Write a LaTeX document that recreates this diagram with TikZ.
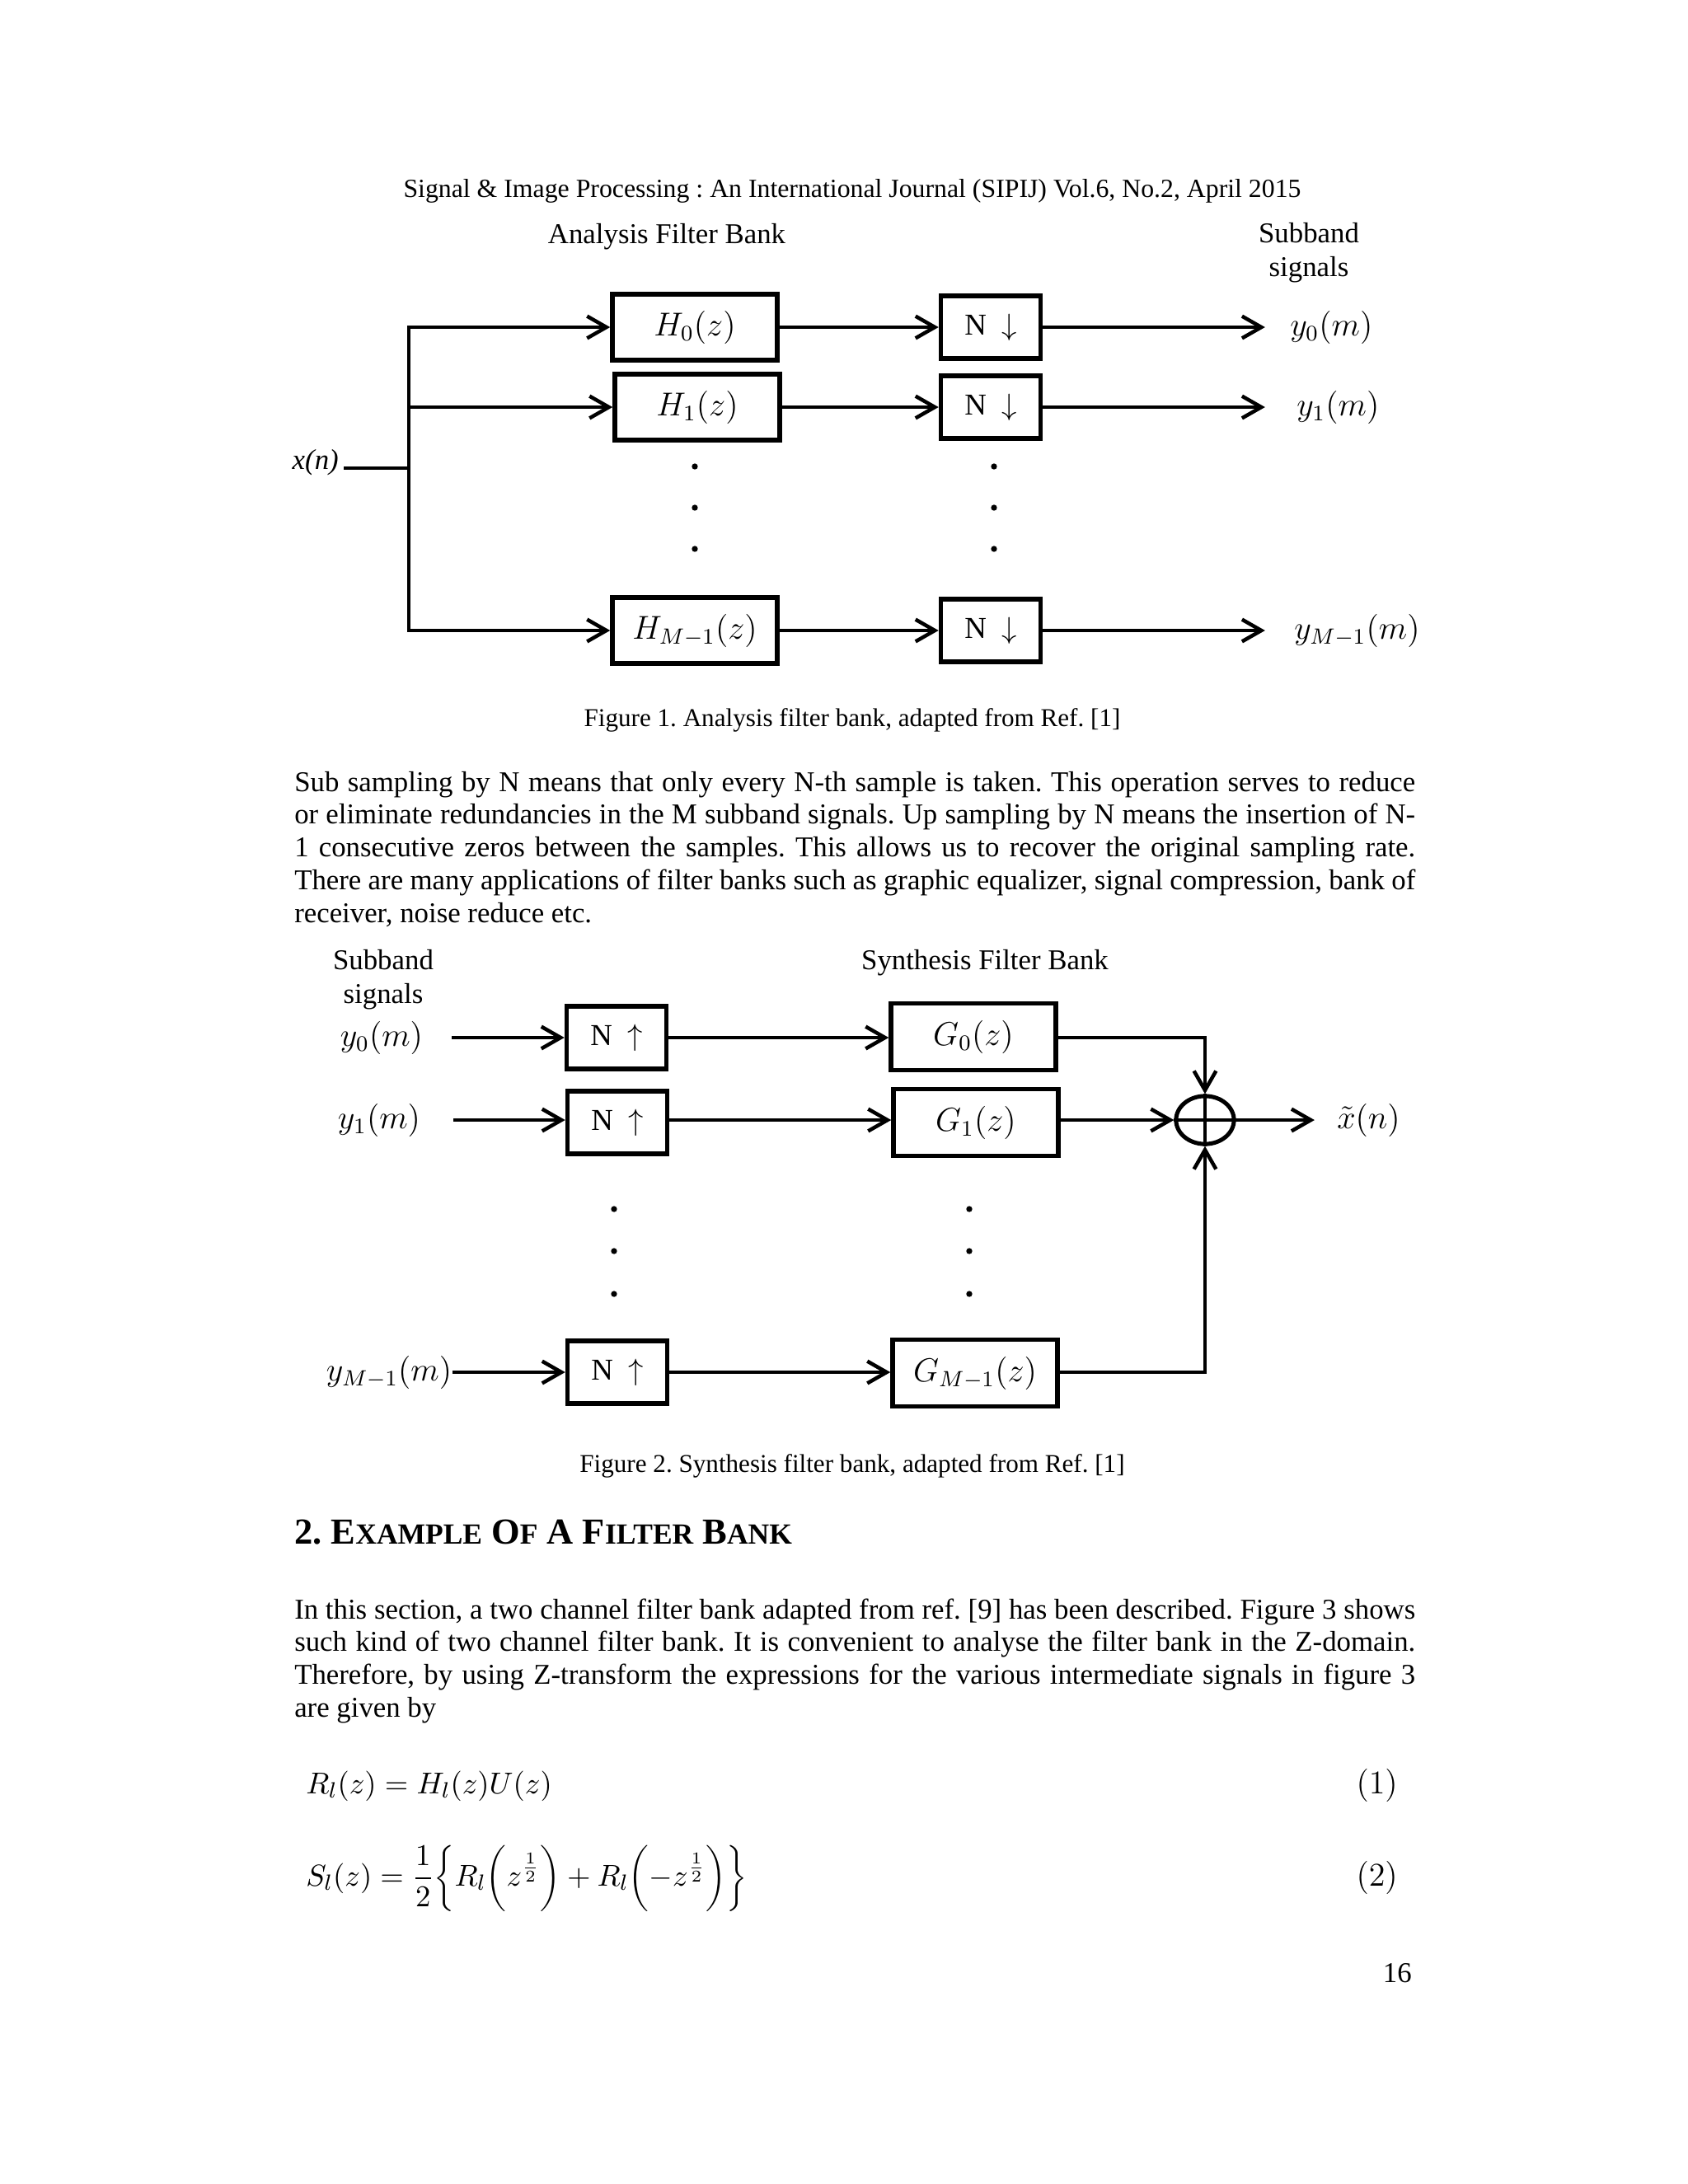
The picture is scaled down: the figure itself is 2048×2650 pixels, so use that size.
\documentclass[tikz,border=0pt]{standalone}
\usepackage{fontspec}
\setmainfont{Liberation Serif}
\usetikzlibrary{arrows.meta,shapes.geometric}
\newcommand\mysmc[1]{{\fontsize{10.6}{12}\selectfont #1}}
\begin{document}
\frenchspacing
\begin{tikzpicture}[x=0.29883pt,y=-0.29883pt,
  line width=1.35pt,
  arr/.style={-{Straight Barb[length=7pt,width=8pt]}},
  hbox/.style={draw,line width=1.6pt,minimum width=59.8pt,minimum height=24pt,inner sep=0pt,font=\fontsize{11.5}{13}\selectfont},
  nbox/.style={draw,line width=1.6pt,minimum width=36.2pt,minimum height=22.7pt,inner sep=0pt,font=\fontsize{11}{13}\selectfont},
  lbl/.style={inner sep=0pt,font=\fontsize{10.4}{12.3}\selectfont},
  mlab/.style={inner sep=0pt,font=\fontsize{11.5}{13}\selectfont},
  txt/.style={inner sep=0pt,anchor=base west,text width=406.4pt,align=justify,font=\fontsize{10.4}{11.88}\selectfont},
  figcap/.style={inner sep=0pt,font=\fontsize{9.3}{11}\selectfont}
]
\fill[white] (0,0) rectangle (2048,2650);
\useasboundingbox (0,0) rectangle (2048,2650);

% header
\node[inner sep=0pt,anchor=base,font=\fontsize{9.5}{11}\selectfont] (hdr) at (1034,239) {Signal \& Image Processing : An International Journal (SIPIJ) Vol.6, No.2, April 2015};

% ---------- Figure 1 ----------
\node[lbl] (afb) at (809,287) {Analysis Filter Bank};
\node[lbl,align=center] (sb1) at (1588,307) {Subband\\signals};

\node[hbox] (h0) at (843,397) {$H_0(z)$};
\node[hbox] (h1) at (846,494) {$H_1(z)$};
\node[hbox] (hm) at (843,765) {$H_{M-1}(z)$};
\node[nbox] (n0) at (1202,397) {N\enspace$\downarrow$};
\node[nbox] (n1) at (1202,494) {N\enspace$\downarrow$};
\node[nbox] (nm) at (1202,765) {N\enspace$\downarrow$};

\node[mlab,anchor=west] (y0) at (1563,397) {$y_0(m)$};
\node[mlab,anchor=west] (y1) at (1571,494) {$y_1(m)$};
\node[mlab,anchor=west] (ym) at (1568,765) {$y_{M-1}(m)$};

\node[inner sep=0pt,anchor=base east,font=\fontsize{10.4}{12}\selectfont] (xn) at (413,569) {\textit{x(n)}};
\coordinate (xin) at (417,568);
\coordinate (bj) at (496,568);
\draw (xin) -- (bj);
\draw[arr] (bj) |- (h0);
\draw[arr] (bj) |- (h1);
\draw[arr] (bj) |- (hm);

\draw[arr] (h0) -- (n0);
\draw[arr] (h1) -- (n1);
\draw[arr] (hm) -- (nm);
\draw[arr] (n0) -- ([xshift=-8.4pt]y0.west);
\draw[arr] (n1) -- ([xshift=-10.8pt]y1.west);
\draw[arr] (nm) -- ([xshift=-9.9pt]ym.west);

\foreach \yy in {566,616,666} {
  \fill (843,\yy) circle[radius=1.1pt];
  \fill (1206,\yy) circle[radius=1.1pt];
}

\node[figcap] (cap1) at (1034,874) {Figure 1. Analysis filter bank, adapted from Ref. [1]};

% paragraph 1
\node[txt] (p1) at (355,960) {Sub sampling by N means that only every N-th sample is taken. This operation serves to reduce\linebreak
or eliminate redundancies in the M subband signals. Up sampling by N means the insertion of N-\linebreak
1 consecutive zeros between the samples. This allows us to recover the original sampling rate.\linebreak
There are many applications of filter banks such as graphic equalizer, signal compression, bank of\linebreak
receiver, noise reduce etc.};

% ---------- Figure 2 ----------
\node[lbl,align=center] (sb2) at (465,1189) {Subband\\signals};
\node[lbl] (sfb) at (1195,1168) {Synthesis Filter Bank};

\node[mlab] (iy0) at (463,1259) {$y_0(m)$};
\node[mlab] (iy1) at (460,1359) {$y_1(m)$};
\node[mlab] (iym) at (472,1665) {$y_{M-1}(m)$};
\coordinate (s0) at (548,1259);
\coordinate (s1) at (550,1359);
\coordinate (sm) at (549,1665);

\node[nbox] (u0) at (748,1259) {N\enspace$\uparrow$};
\node[nbox] (u1) at (749,1362) {N\enspace$\uparrow$};
\node[nbox] (um) at (749,1665) {N\enspace$\uparrow$};

\node[hbox,minimum height=24.3pt] (g0) at (1181,1258) {$G_0(z)$};
\node[hbox,minimum height=24.3pt] (g1) at (1184,1362) {$G_1(z)$};
\node[hbox,minimum height=24.3pt] (gm) at (1183,1666) {$G_{M-1}(z)$};

\node[draw,ellipse,line width=1.5pt,minimum width=21pt,minimum height=17.4pt,inner sep=0pt] (sum) at (1462,1359) {};
\draw (sum.north) -- (sum.south);
\draw (sum.west) -- (sum.east);

\node[mlab,anchor=west] (xt) at (1620,1359) {$\tilde{x}(n)$};

\draw[arr] (s0) -- (u0);
\draw[arr] (s1) -- (s1 -| u1.west);
\draw[arr] (sm) -- (um);
\draw[arr] (u0) -- (u0 -| g0.west);
\draw[arr] (u1.east |- s1) -- (s1 -| g1.west);
\draw[arr] (um) -- (um -| gm.west);
\draw[arr] (g0.east |- u0) -| (sum.north);
\draw[arr] (g1.east |- sum) -- (sum.west);
\draw[arr] (gm.east |- um) -| (sum.south);
\draw[arr] (sum.east) -- ([xshift=-7.5pt]xt.west);

\foreach \yy in {1467,1518,1570} {
  \fill (745,\yy) circle[radius=1.1pt];
  \fill (1176,\yy) circle[radius=1.1pt];
}

\node[figcap] (cap2) at (1034,1779) {Figure 2. Synthesis filter bank, adapted from Ref. [1]};

% ---------- Section ----------
\node[inner sep=0pt,anchor=base west,font=\fontsize{13.3}{15}\selectfont\bfseries] (sec) at (355,1873)
  {2. E\mysmc{XAMPLE} O\mysmc{F} A F\mysmc{ILTER} B\mysmc{ANK}};

\node[txt] (p2) at (355,1964) {In this section, a two channel filter bank adapted from ref. [9] has been described. Figure 3 shows\linebreak
such kind of two channel filter bank. It is convenient to analyse the filter bank in the Z-domain.\linebreak
Therefore, by using Z-transform the expressions for the various intermediate signals in figure 3\linebreak
are given by};

\node[inner sep=0pt,anchor=base west,font=\fontsize{11.2}{14}\selectfont] (eq1) at (369,2176) {$R_l(z)=H_l(z)U(z)$};
\node[inner sep=0pt,anchor=base east,font=\fontsize{11.5}{14}\selectfont] (en1) at (1698,2176) {$(1)$};
\node[inner sep=0pt,anchor=base west,font=\fontsize{11.2}{14}\selectfont] (eq2) at (369,2288)
  {$\displaystyle S_l(z)=\frac{1}{2}\biggl\{R_l\biggl(z^{\frac{1}{2}}\biggr)+R_l\biggl(-z^{\frac{1}{2}}\biggr)\biggr\}$};
\node[inner sep=0pt,anchor=base east,font=\fontsize{11.5}{14}\selectfont] (en2) at (1698,2288) {$(2)$};

\node[inner sep=0pt,anchor=base east,font=\fontsize{10.4}{12}\selectfont] (pg) at (1715,2405) {16};
\end{tikzpicture}
\end{document}
